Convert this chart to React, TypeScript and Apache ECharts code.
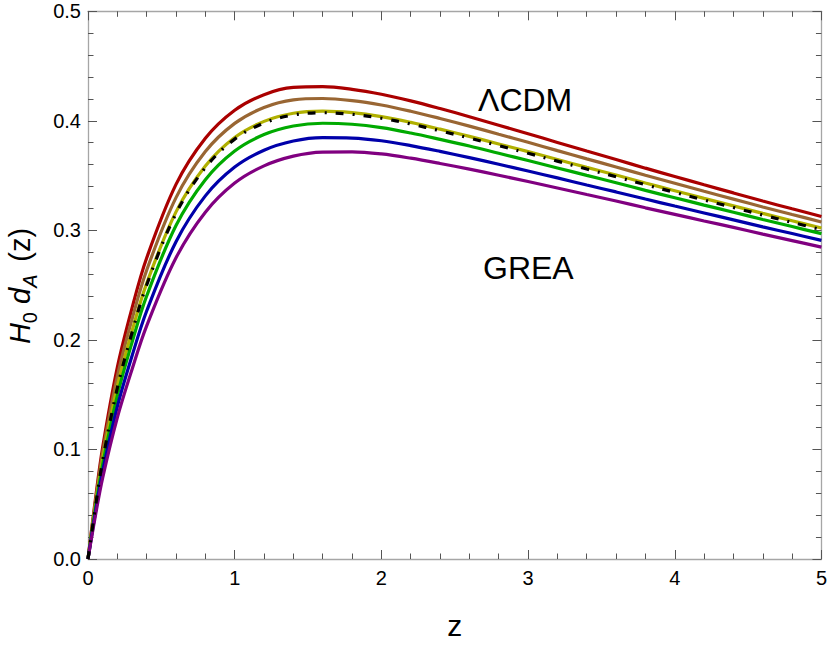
import React, { useEffect, useRef } from "react";
import * as echarts from "echarts";

const zValues = [0, 0.05, 0.1, 0.2, 0.3, 0.4, 0.6, 0.8, 1.0, 1.2, 1.4, 1.6, 1.8, 2.0, 2.2, 2.4, 2.6, 2.8, 3.0, 3.2, 3.4, 3.6, 3.8, 4.0, 4.2, 4.4, 4.6, 4.8, 5.0];

const redVals = [0, 0.054, 0.102, 0.175, 0.229, 0.2748, 0.342, 0.3841, 0.4097, 0.4239, 0.4305, 0.4312, 0.4288, 0.4243, 0.4182, 0.4112, 0.4038, 0.396, 0.3882, 0.3803, 0.3724, 0.3647, 0.3568, 0.3492, 0.3416, 0.3342, 0.3268, 0.3197, 0.3127];
const brownVals = [0, 0.0513, 0.097, 0.1667, 0.2189, 0.2636, 0.3299, 0.372, 0.3977, 0.4122, 0.4192, 0.4204, 0.4185, 0.4145, 0.4088, 0.4022, 0.3952, 0.3878, 0.3804, 0.3728, 0.3653, 0.3579, 0.3503, 0.343, 0.3357, 0.3285, 0.3214, 0.3145, 0.3077];
const yellowVals = [0, 0.0484, 0.0915, 0.1578, 0.208, 0.2516, 0.3169, 0.3588, 0.3848, 0.3995, 0.4069, 0.4089, 0.4075, 0.4039, 0.3986, 0.3924, 0.3858, 0.3789, 0.3719, 0.3647, 0.3575, 0.3505, 0.3432, 0.3362, 0.3292, 0.3224, 0.3155, 0.3088, 0.3022];
const lcdmVals = [0, 0.0469, 0.09, 0.1563, 0.2065, 0.2501, 0.3154, 0.3573, 0.3833, 0.398, 0.4054, 0.4074, 0.406, 0.4024, 0.3971, 0.3909, 0.3843, 0.3774, 0.3704, 0.3632, 0.356, 0.349, 0.3417, 0.3347, 0.3277, 0.3209, 0.314, 0.3073, 0.3007];
const greenVals = [0, 0.0456, 0.0863, 0.1492, 0.1976, 0.2401, 0.3045, 0.3463, 0.3725, 0.3875, 0.3953, 0.3978, 0.3969, 0.3938, 0.3889, 0.3831, 0.377, 0.3704, 0.3638, 0.357, 0.3502, 0.3435, 0.3365, 0.3298, 0.3231, 0.3166, 0.3099, 0.3035, 0.297];
const blueVals = [0, 0.0423, 0.0802, 0.1391, 0.1853, 0.2264, 0.2897, 0.3315, 0.3578, 0.3732, 0.3816, 0.3847, 0.3843, 0.3818, 0.3774, 0.3721, 0.3664, 0.3604, 0.3542, 0.3479, 0.3414, 0.3351, 0.3286, 0.3222, 0.3159, 0.3096, 0.3032, 0.2971, 0.2909];
const purpleVals = [0, 0.039, 0.074, 0.129, 0.173, 0.2128, 0.275, 0.3166, 0.3432, 0.3589, 0.3678, 0.3715, 0.3717, 0.3698, 0.3659, 0.3611, 0.3559, 0.3503, 0.3446, 0.3387, 0.3327, 0.3268, 0.3206, 0.3146, 0.3086, 0.3027, 0.2966, 0.2907, 0.2847];

const xTicks = [0, 1, 2, 3, 4, 5];
const yTicks = [0.0, 0.1, 0.2, 0.3, 0.4, 0.5];

const FONT = "'Liberation Sans', Arial, Helvetica, sans-serif";

const pairs = (vals: number[]) => zValues.map((z, i) => [z, vals[i]]);

export default function App() {
  const ref = useRef<HTMLDivElement>(null);
  useEffect(() => {
    if (!ref.current) return;
    const chart = echarts.init(ref.current, null, { renderer: "svg" });
    const axisLineStyle = { color: "#a6a6a6", width: 1.3 };
    const tickStyle = { color: "#555555", width: 1 };
    const xBase = {
      type: "value" as const,
      min: xTicks[0],
      max: xTicks[xTicks.length - 1],
      interval: 1,
      axisLine: { show: true, onZero: false, lineStyle: axisLineStyle },
      axisTick: { show: true, inside: true, length: 9, lineStyle: tickStyle },
      minorTick: { show: true, splitNumber: 5, length: 5.5, lineStyle: tickStyle },
      splitLine: { show: false },
      minorSplitLine: { show: false },
    };
    const yBase = {
      type: "value" as const,
      min: yTicks[0],
      max: yTicks[yTicks.length - 1],
      interval: 0.1,
      axisLine: { show: true, onZero: false, lineStyle: axisLineStyle },
      axisTick: { show: true, inside: true, length: 9, lineStyle: tickStyle },
      minorTick: { show: true, splitNumber: 5, length: 5.5, lineStyle: tickStyle },
      splitLine: { show: false },
      minorSplitLine: { show: false },
    };
    const lineSeries = (name: string, vals: number[], color: string, z = 2) => ({
      name,
      type: "line" as const,
      data: pairs(vals),
      showSymbol: false,
      smooth: 0.35,
      z,
      lineStyle: { color, width: 3.2 },
    });
    chart.setOption({
      animation: false,
      backgroundColor: "#ffffff",
      grid: { left: 88, right: 8.5, top: 11.3, bottom: 83.5 },
      xAxis: [
        {
          ...xBase,
          position: "bottom",
          axisLabel: {
            show: true,
            color: "#000",
            fontSize: 20,
            fontFamily: FONT,
            margin: 9,
            formatter: (v: number) => String(v),
          },
          name: "z",
          nameLocation: "middle",
          nameGap: 51,
          nameTextStyle: { fontSize: 30, fontFamily: FONT, color: "#000" },
        },
        { ...xBase, position: "top", axisLabel: { show: false } },
      ],
      yAxis: [
        {
          ...yBase,
          position: "left",
          axisLabel: {
            show: true,
            color: "#000",
            fontSize: 20,
            fontFamily: FONT,
            margin: 7,
            formatter: (v: number) => v.toFixed(1),
          },
        },
        { ...yBase, position: "right", axisLabel: { show: false } },
      ],
      graphic: [
        {
          type: "text",
          x: 20,
          y: 286,
          rotation: Math.PI / 2,
          style: {
            text: "{i|H}{sub|0}{n| }{i|d}{subi|A}{gap| }{n|(z)}",
            align: "center",
            verticalAlign: "middle",
            fill: "#000",
            font: `29px ${FONT}`,
            rich: {
              n: { fontSize: 29, fontFamily: FONT, lineHeight: 39, verticalAlign: "middle" },
              gap: { fontSize: 46, fontFamily: FONT, lineHeight: 39, verticalAlign: "middle" },
              i: { fontSize: 29, fontStyle: "italic", fontFamily: FONT, lineHeight: 39, verticalAlign: "middle" },
              sub: { fontSize: 20, fontFamily: FONT, lineHeight: 20, verticalAlign: "bottom" },
              subi: { fontSize: 20, fontStyle: "italic", fontFamily: FONT, lineHeight: 20, verticalAlign: "bottom" },
            },
          },
        },
        {
          type: "text",
          x: 478,
          y: 100,
          style: { text: "ΛCDM", fill: "#000", font: `32px ${FONT}`, align: "left", verticalAlign: "middle" },
        },
        {
          type: "text",
          x: 483,
          y: 268,
          style: { text: "GREA", fill: "#000", font: `32px ${FONT}`, align: "left", verticalAlign: "middle" },
        },
      ],
      series: [
        lineSeries("red", redVals, "#aa0000"),
        lineSeries("brown", brownVals, "#996633"),
        lineSeries("yellow", yellowVals, "#b0b000"),
        lineSeries("green", greenVals, "#00aa00"),
        lineSeries("blue", blueVals, "#0000aa"),
        lineSeries("purple", purpleVals, "#800080"),
        {
          name: "LCDM",
          type: "line",
          data: pairs(lcdmVals),
          showSymbol: false,
          smooth: 0.35,
          z: 5,
          lineStyle: { color: "#000000", width: 3.2, type: [8, 9, 2, 9] },
        },
      ],
    });
    return () => chart.dispose();
  }, []);
  return <div ref={ref} style={{ position: "fixed", left: 0, top: 0, width: 830, height: 645, background: "#fff" }} />;
}
